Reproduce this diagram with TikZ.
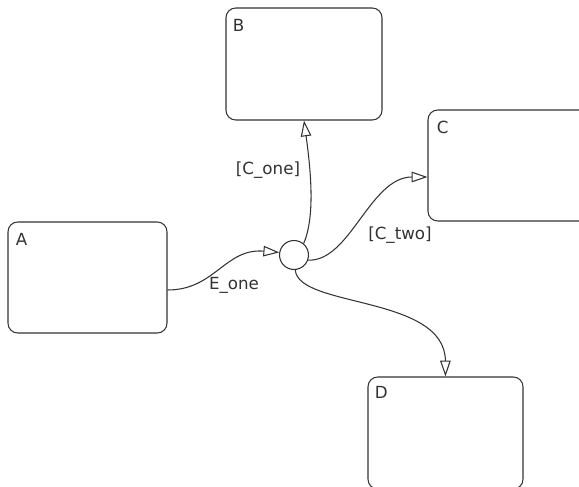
\documentclass[tikz,border=0pt]{standalone}
\usepackage{fontspec}
\setmainfont{DejaVu Sans}
\usepackage{xcolor}
\definecolor{lineGray}{RGB}{50, 50, 50}
\usetikzlibrary{arrows.meta, calc}
\tikzset{
    state/.style={draw=lineGray, line width=0.6pt, rounded corners=5.5pt, inner sep=0pt},
    stateName/.style={anchor=north west, inner sep=0pt, font=\fontsize{9.5}{10}\selectfont, text=lineGray},
    junction/.style={draw=lineGray, line width=0.6pt, circle, minimum size=0.58cm, inner sep=0pt},
    trans/.style={-{Triangle[open, length=9pt, width=6pt]}, line width=0.6pt, draw=lineGray},
    transLabel/.style={inner sep=0pt, font=\fontsize{9.5}{10}\selectfont, text=lineGray}
}

\begin{document}
\begin{tikzpicture}[x=0.02cm, y=-0.02cm]
    \useasboundingbox (0,0) rectangle (579,487);
    \clip (0,0) rectangle (579,487);

    % --- STATES ---
    \node[state, minimum width=3.18cm, minimum height=2.22cm] (A) at (87.5,277.5) {};
    \node[state, minimum width=3.12cm, minimum height=2.24cm] (B) at (304,64) {};
    \node[state, minimum width=3.40cm, minimum height=2.22cm] (C) at (513,165.5) {};
    \node[state, minimum width=3.10cm, minimum height=2.24cm] (D) at (445.5,433) {};

    \node[stateName] (nameA) at ([xshift=0.16cm, yshift=-0.22cm]A.north west) {A};
    \node[stateName] (nameB) at ([xshift=0.14cm, yshift=-0.22cm]B.north west) {B};
    \node[stateName] (nameC) at ([xshift=0.18cm, yshift=-0.22cm]C.north west) {C};
    \node[stateName] (nameD) at ([xshift=0.14cm, yshift=-0.18cm]D.north west) {D};

    % --- JUNCTION ---
    \node[junction] (J) at (294,255) {};

    % --- TRANSITIONS ---
    \draw[trans] ($(A.east)+(0,12.5)$) .. controls (215,290) and (225,248) .. (J.170);
    \draw[trans] (J.50) .. controls (316,215) and (310,165) .. (B.south);
    \draw[trans] (J.-20) .. controls (350,262) and (370,177) .. ($(C.west)+(0,11.5)$);
    \draw[trans] (J.-85) .. controls (298,308) and (445,295) .. (D.north);

    % Labels
    \node[transLabel] (lblE) at (234,285) {E\_one};
    \node[transLabel] (lblC1) at (268,170) {[C\_one]};
    \node[transLabel] (lblC2) at (400,235) {[C\_two]};

\end{tikzpicture}
\end{document}
